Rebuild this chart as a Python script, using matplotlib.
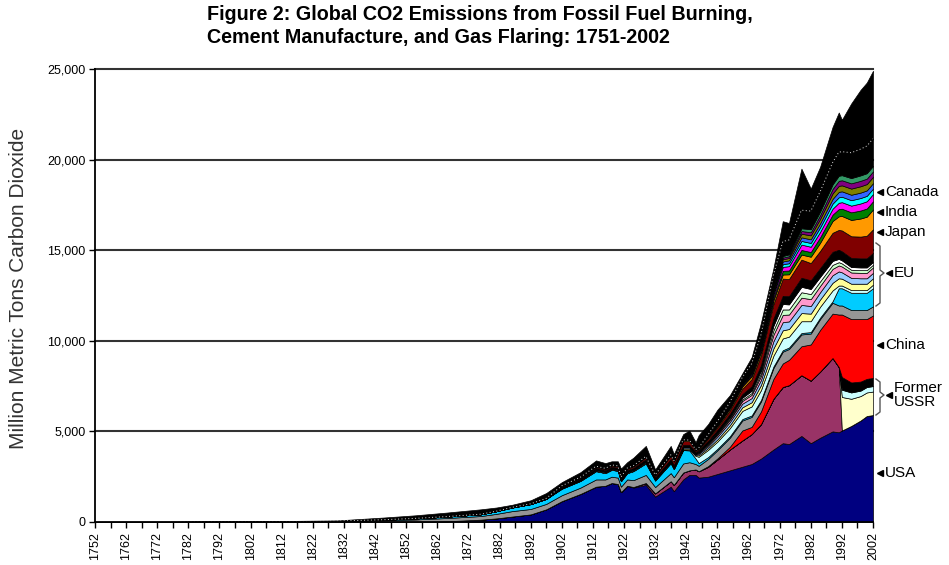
import matplotlib.pyplot as plt
import numpy as np
from matplotlib.lines import Line2D
from matplotlib import font_manager

years = [1751, 1800, 1830, 1845, 1855, 1865, 1876, 1881, 1886, 1892,
         1897, 1902, 1908, 1913, 1916, 1918, 1920, 1921, 1923, 1925,
         1929, 1932, 1937, 1938, 1941, 1943, 1945, 1946, 1949, 1952,
         1956, 1960, 1963, 1966, 1970, 1973, 1975, 1979, 1982, 1985,
         1989, 1991, 1992, 1995, 1998, 2000, 2002]

# top of the whole stack (million t CO2)
total = [10, 30, 90, 250, 370, 520, 700, 800, 950, 1200,
         1600, 2200, 2750, 3400, 3250, 3350, 3350, 2950, 3300, 3550,
         4200, 2900, 4200, 3750, 4850, 5050, 4400, 4800, 5400, 6200,
         7000, 8200, 9100, 11000, 14000, 16600, 16500, 19500, 18400, 19600,
         21800, 22600, 22200, 23100, 23850, 24250, 24900]

usa = [0, 0, 0, 0, 10, 40, 130, 200, 300, 420,
       700, 1150, 1550, 1950, 2000, 2150, 2100, 1650, 2000, 1900,
       2050, 1400, 1950, 1700, 2350, 2600, 2600, 2450, 2500, 2650,
       2850, 3050, 3200, 3500, 4000, 4350, 4300, 4750, 4350, 4650,
       5000, 4950, 5050, 5300, 5600, 5850, 5900]
ussr = [0, 0, 0, 0, 0, 0, 0, 0, 0, 0,
        0, 0, 0, 0, 0, 0, 0, 0, 0, 30,
        100, 180, 300, 350, 380, 250, 300, 350, 550, 800,
        1150, 1450, 1650, 1900, 2800, 3100, 3250, 3350, 3450, 3650,
        4050, 3600, 0, 0, 0, 0, 0]
russia = [0] * 42 + [1850, 1500, 1350, 1300, 1300]
fsu_light = [0] * 42 + [400, 350, 300, 300, 300]
fsu_dark = [0] * 42 + [700, 550, 500, 450, 450]
china = [0] * 28 + [30, 60,
                    150, 550, 400, 700, 1100, 1300, 1400, 1600, 2000, 2300,
                    2450, 2900, 3450, 3500, 3450, 3300, 3450]

eu_gray = [0, 5, 30, 90, 130, 180, 200, 250, 300, 300,
           300, 330, 350, 400, 350, 350, 350, 300, 350, 380,
           450, 350, 450, 420, 500, 450, 300, 300, 400, 450,
           500, 550, 550, 550, 600, 650, 600, 650, 600, 600,
           600, 500, 500, 500, 500, 500, 500]
eu_cyan = [0, 10, 20, 40, 60, 80, 100, 150, 200, 270,
           280, 360, 370, 460, 350, 380, 380, 300, 350, 500,
           640, 360, 550, 450, 740, 650, 300, 150, 100, 80,
           80, 80, 80, 80, 80, 80, 80, 80, 80, 80,
           80, 950, 950, 950, 950, 950, 1000]
eu_lightcyan = [0] * 24 + [30, 50, 150, 350, 400, 400,
                           450, 450, 500, 550, 600, 650, 600, 650, 600, 600,
                           600, 150, 150, 150, 150, 150, 200]
eu_yellow = [0] * 11 + [20, 30, 40, 40, 40, 40, 30, 40, 40,
                        50, 40, 50, 50, 60, 60, 50, 80, 100, 120,
                        160, 200, 230, 280, 400, 450, 420, 450, 420, 400,
                        420, 400, 380, 350, 350, 350, 350]
eu_lightblue = [0] * 11 + [20, 30, 40, 40, 40, 40, 30, 40, 40,
                           50, 40, 50, 50, 60, 60, 50, 80, 100, 150,
                           180, 200, 230, 280, 400, 450, 420, 450, 420, 400,
                           420, 380, 350, 320, 300, 300, 300]
eu_pink = [0] * 11 + [10, 10, 20, 20, 20, 20, 20, 20, 20,
                      30, 20, 30, 30, 30, 30, 30, 50, 80, 100,
                      120, 150, 180, 220, 350, 400, 380, 400, 380, 350,
                      350, 330, 320, 300, 300, 300, 300]
eu_lightgreen = [0] * 27 + [30, 50, 60,
                            70, 80, 100, 150, 250, 300, 280, 300, 280, 250,
                            220, 180, 170, 150, 150, 150, 150]
eu_white = [0] * 27 + [30, 50, 60,
                       80, 100, 120, 150, 250, 300, 280, 300, 280, 250,
                       220, 180, 170, 150, 150, 150, 150]
eu_other = [0] * 11 + [50, 60, 80, 70, 70, 70, 60, 70, 80,
                       100, 70, 100, 90, 110, 110, 80, 100, 120, 150,
                       180, 200, 250, 300, 400, 450, 450, 500, 480, 480,
                       500, 500, 500, 500, 500, 500, 500]
japan = [0] * 8 + [10, 15,
                   25, 40, 50, 60, 60, 70, 70, 60, 70, 80,
                   100, 100, 180, 190, 220, 200, 80, 60, 120, 150,
                   200, 300, 400, 550, 800, 950, 950, 1000, 950, 950,
                   1050, 1100, 1150, 1200, 1200, 1250, 1300]
india = [0] * 11 + [20, 25, 30, 30, 30, 30, 30, 35, 40,
                    50, 45, 50, 55, 60, 60, 60, 60, 70, 80,
                    100, 120, 150, 170, 200, 230, 260, 280, 350, 450,
                    650, 750, 800, 900, 1000, 1050, 1100]
green = [0] * 28 + [20, 30, 40, 50, 70, 100, 150, 200, 210, 250, 260, 300,
                    350, 400, 400, 420, 440, 450, 450]
magenta = [0] * 28 + [20, 30, 40, 50, 70, 100, 150, 220, 240, 300, 290, 300,
                      330, 350, 360, 370, 390, 400, 400]
cyan = [0] * 28 + [10, 20, 30, 40, 50, 70, 100, 150, 160, 200, 210, 250,
                   280, 300, 300, 300, 300, 300, 300]
blue = [0] * 28 + [0, 10, 20, 30, 40, 60, 100, 150, 160, 200, 200, 220,
                   260, 300, 300, 300, 300, 300, 300]
olive = [0] * 28 + [0, 0, 10, 20, 30, 50, 80, 120, 130, 200, 220, 250,
                    300, 330, 330, 340, 350, 350, 350]
purple = [0] * 28 + [0, 0, 0, 10, 20, 40, 60, 90, 100, 150, 170, 200,
                     250, 280, 280, 290, 300, 300, 300]
teal = [0] * 28 + [0, 0, 0, 10, 20, 40, 60, 90, 100, 150, 170, 200,
                   250, 280, 280, 290, 300, 300, 300]
other_world = [0] * 28 + [100, 150, 200, 300, 400, 500, 700, 800, 800, 1000,
                          1000, 1100, 1200, 1300, 1300, 1400, 1450, 1500, 1500]

bands = [(usa, '#000080'), (ussr, '#993366'), (russia, '#FFFFCC'),
         (fsu_light, '#CCFFFF'), (fsu_dark, '#000000'), (china, '#FF0000'),
         (eu_gray, '#969696'), (eu_cyan, '#00CCFF'), (eu_lightcyan, '#CCFFFF'),
         (eu_yellow, '#FFFF99'), (eu_lightblue, '#99CCFF'), (eu_pink, '#FF99CC'),
         (eu_lightgreen, '#CCFFCC'), (eu_white, '#FFFFFF'), (eu_other, '#000000'),
         (japan, '#800000'), (india, '#FF9900'), (green, '#008000'),
         (magenta, '#FF00FF'), (cyan, '#00FFFF'), (blue, '#3366FF'),
         (olive, '#808000'), (purple, '#800080'), (teal, '#339966'),
         (other_world, '#000000')]

vals = [np.array(b[0], dtype=float) for b in bands]
cols = [b[1] for b in bands]
below = np.sum(vals, axis=0)
rest = np.clip(np.array(total, dtype=float) - below, 0, None)
vals.append(rest)
cols.append('#000000')

installed = {f.name for f in font_manager.fontManager.ttflist}
if 'Liberation Sans Narrow' in installed:
    narrow = ['Liberation Sans Narrow', 'DejaVu Sans']
    title_size = 15.5
else:
    narrow = ['Liberation Sans', 'DejaVu Sans']
    title_size = 14.2
arial = ['Liberation Sans', 'DejaVu Sans']
W, H = 949, 565

def fx(x):
    return x / W

def fy(y):
    return 1 - y / H

fig = plt.figure(figsize=(9.49, 5.65), dpi=100)
ax = fig.add_axes([fx(95), fy(522), fx(873) - fx(95), fy(69) - fy(522)])

for g in range(5000, 25001, 5000):
    ax.axhline(g, color='#333333', linewidth=1.5, zorder=0, clip_on=False)

ax.stackplot(years, *vals, colors=cols, edgecolor='black', linewidth=0.5, zorder=2)
# white dotted edge inside the black "rest of world" band
ax.plot(years, below, color='#dddddd', linewidth=0.7, linestyle=(0, (1, 2.5)), zorder=3)

ax.set_xlim(1752, 2002)
ax.set_ylim(0, 25000)
for s in ['top', 'right']:
    ax.spines[s].set_visible(False)
for s in ['left', 'bottom']:
    ax.spines[s].set_linewidth(1.3)
    ax.spines[s].set_zorder(4)

ax.set_xticks(range(1752, 2003, 10))
ax.set_xticks(range(1757, 2003, 10), minor=True)
ax.set_xticklabels([str(y) for y in range(1752, 2003, 10)], rotation=90,
                   family=arial, fontsize=9)
ax.tick_params(axis='x', which='both', direction='out', length=4, width=1, pad=3)
ax.set_yticks(range(0, 25001, 5000))
ax.set_yticklabels(['{:,}'.format(v) for v in range(0, 25001, 5000)],
                   family=arial, fontsize=9)
ax.tick_params(axis='y', direction='out', length=4, width=1, pad=3)

fig.text(fx(19), fy(288), 'Million Metric Tons Carbon Dioxide', rotation=90,
         ha='center', va='center', fontsize=15, color='#333333', family=arial)

fig.text(fx(207), fy(5), 'Figure 2: Global CO2 Emissions from Fossil Fuel Burning,\n'
         'Cement Manufacture, and Gas Flaring: 1751-2002',
         ha='left', va='top', fontsize=title_size, fontweight='bold', family=narrow,
         linespacing=1.25)

# country labels on the right
for name, ypx in [('Canada', 192), ('India', 212), ('Japan', 232),
                  ('China', 345), ('USA', 473)]:
    fig.add_artist(Line2D([fx(880)], [fy(ypx)], marker='<', markersize=5,
                          color='black', linestyle='none'))
    fig.text(fx(885), fy(ypx), name, ha='left', va='center', fontsize=11,
             family=arial)

fig.add_artist(Line2D([fx(889)], [fy(273)], marker='<', markersize=5,
                      color='black', linestyle='none'))
fig.text(fx(894), fy(273), 'EU', ha='left', va='center', fontsize=11,
         family=arial)
fig.add_artist(Line2D([fx(889)], [fy(395)], marker='<', markersize=5,
                      color='black', linestyle='none'))
fig.text(fx(894), fy(395), 'Former\nUSSR', ha='left', va='center', fontsize=11,
         family=arial, linespacing=0.95)

# curly brackets
for top, mid, bot in [(243, 273, 306), (379, 395, 415)]:
    bx = [876, 880, 880, 884, 880, 880, 876]
    by = [top, top + 3, mid - 3, mid, mid + 3, bot - 3, bot]
    fig.add_artist(Line2D([fx(v) for v in bx], [fy(v) for v in by],
                          color='#555555', linewidth=1))

fig.savefig('out.png', dpi=100)
